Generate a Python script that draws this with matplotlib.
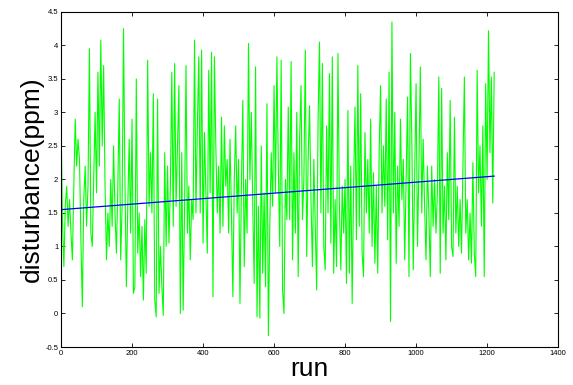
import numpy as np
import matplotlib
matplotlib.use("Agg")
import matplotlib.pyplot as plt

plt.rcParams["font.family"] = ["Liberation Sans", "DejaVu Sans"]

# disturbance readings, one every 4 runs
seg1 = [2.9, 1.4, 0.7, 1.6, 1.9, 1.3, 1.7, 1.2, 0.8, 1.9,
        2.9, 2.2, 2.6, 2.3, 1.1, 0.1, 1.7, 2.2, 1.3, 1.9,
        3.95, 1.2, 1.0, 2.0, 3.0, 1.8, 3.6, 2.2, 4.08, 2.5,
        3.7, 1.9, 0.8, 1.5, 1.0, 2.0, 1.3, 2.5, 1.5, 0.9,
        1.9, 3.2, 0.8, 1.6, 4.25, 2.0, 0.4, 1.6, 2.6, 1.2,
        2.9, 0.3]
seg2 = [0.4, 3.5, 0.9, 1.5, 0.55, 1.3, 0.2, 1.4, 0.6, 3.78,
        1.6, 2.4, 1.5, 3.28, 0.2, -0.05, 3.2, 0.3, 1.0, 0.4,
        -0.03, 2.4, 1.0, 2.2, 1.05, 1.9, 3.6, 1.3, 3.73, 1.6,
        2.5, 3.4, 0.0, 2.4, 0.05, 1.6, 3.7, 1.2, 1.9, 0.8,
        1.7, 1.4, 4.08, 1.5, 2.8, 3.83, 1.5, 3.93, 1.05, 2.7,
        1.8]
seg3 = [0.9, 3.63, 1.8, 3.9, 0.25, 3.83, 2.5, 1.5, 2.2, 1.2,
        2.93, 1.3, 2.8, 1.9, 2.3, 1.2, 2.6, 1.5, 0.25, 2.0,
        2.8, 1.5, 2.3, 0.15, 1.9, 3.18, 0.7, 2.0, 1.2, 4.03,
        2.0, 3.0, 1.6, 0.45, 3.68, -0.05, 1.6, -0.07, 2.5, 0.6,
        1.8, 0.4, 3.13, -0.33, 1.3, 2.4, 1.6, 3.4, 1.8, 3.83,
        2.2]
seg4 = [1.0, 3.78, 0.35, 0.0, 2.0, 1.4, 3.08, 1.4, 3.76, 0.8,
        2.4, 1.2, 3.0, 0.55, 2.6, 3.4, 1.4, 2.0, 3.93, 0.85,
        2.3, 3.1, 1.7, 0.7, 2.3, 1.3, 0.35, 2.9, 4.05, 1.5,
        3.73, 1.0, 0.65, 2.8, 1.5, 3.58, 1.05, 3.83, 0.6, 1.7,
        0.7, 3.88, 1.6, 0.65, 1.9, 1.2, 2.0, 0.45, 3.03, 0.6,
        2.2]
seg5 = [0.15, 1.9, 3.08, 1.1, 3.7, 1.3, 3.28, 0.9, 0.55, 2.7,
        1.5, 2.3, 1.2, 2.9, 1.0, 2.1, 0.75, 1.9, 0.6, 2.4,
        3.4, 1.5, 2.5, 1.6, 3.2, 1.1, 3.6, -0.12, 4.35, 1.5,
        3.0, 0.75, 2.2, 1.3, 2.9, 1.7, 2.3, 0.8, 2.0, 3.23,
        0.55, 3.88, 2.6, 0.65, 2.0, 3.43, 1.0, 2.2, 3.68, 1.5]
seg6 = [2.6, 1.6, 0.8, 2.2, 1.5, 0.55, 2.2, 1.3, 2.0, 1.2,
        1.8, 3.53, 0.6, 3.36, 1.2, 1.9, 0.8, 2.4, 1.4, 3.18,
        1.0, 0.85, 2.93, 1.2, 1.9, 1.0, 1.7, 0.9, 2.2, 3.53,
        1.2, 1.7, 0.8, 1.5, 0.75, 2.25, 0.9, 0.55, 3.63, 1.8,
        2.5, 1.3, 2.8, 0.55, 3.43, 2.0, 4.22, 2.4, 3.53, 1.65,
        3.6]

disturbance = np.array(seg1 + seg2 + seg3 + seg4 + seg5 + seg6)
runs = np.arange(len(disturbance)) * 4

# fitted trend line
trend_start = 1.55
trend_end = 2.05
trend_x = [runs[0], runs[-1]]
trend_y = [trend_start, trend_end]

fig = plt.figure(figsize=(5.73, 3.85), dpi=100)
ax = fig.add_axes([0.1065, 0.0987, 0.8675, 0.8703])

ax.plot(runs, disturbance, color="#00ff00", linewidth=0.8)
ax.plot(trend_x, trend_y, color="#0000ff", linewidth=0.9)

ax.set_xlim(0, 1400)
ax.set_ylim(-0.5, 4.5)
ax.set_xticks(np.arange(0, 1401, 200))
ax.set_yticks(np.arange(-0.5, 4.51, 0.5))
ax.set_yticklabels(["-0.5", "0", "0.5", "1", "1.5", "2", "2.5", "3", "3.5", "4", "4.5"])
ax.tick_params(direction="in", length=3, width=0.6, labelsize=5.5,
               top=True, right=True, pad=2)
for s in ax.spines.values():
    s.set_linewidth(0.8)

ax.set_xlabel("run", fontsize=19, labelpad=0)
ax.set_ylabel("disturbance(ppm)", fontsize=19, labelpad=1)

fig.savefig("out.png", dpi=100)
